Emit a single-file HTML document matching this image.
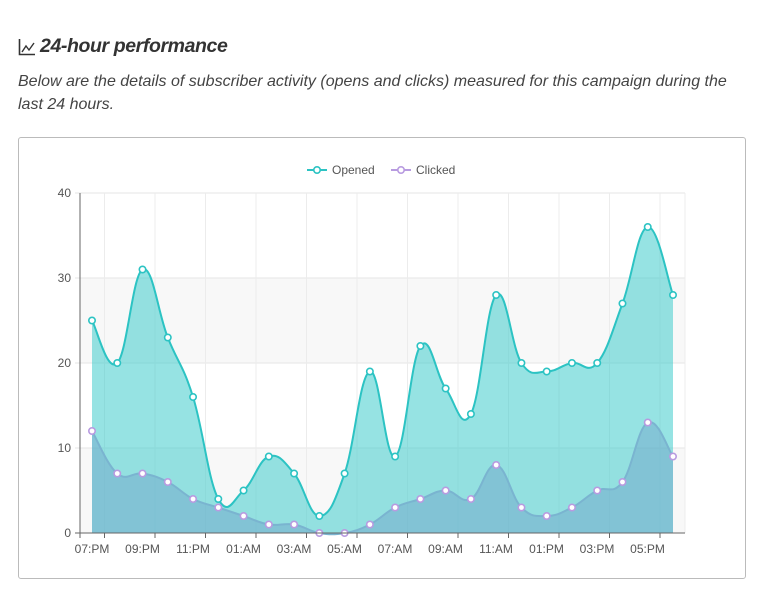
<!DOCTYPE html>
<html><head><meta charset="utf-8">
<style>
body{margin:0;background:#fff;width:766px;height:593px;overflow:hidden;font-family:"Liberation Sans",sans-serif;}
h2{position:absolute;left:18px;top:35px;margin:0;font-size:19.5px;font-style:italic;font-weight:bold;color:#333;letter-spacing:-0.4px}
p{position:absolute;left:18px;top:70px;margin:0;width:712px;font-size:16px;font-style:italic;color:#444;line-height:23px}
.card{position:absolute;left:18px;top:137px;width:726px;height:440px;border:1px solid #bbb;border-radius:3px}
svg{position:absolute;left:0;top:0}
</style></head><body>
<svg width="20" height="20" style="left:18px;top:38px"><path d="M1.5,1 V16.5 H17" fill="none" stroke="#333" stroke-width="1.6"/><path d="M4,14 L8,8 L11,12 L16,5" fill="none" stroke="#333" stroke-width="1.4"/></svg>
<h2><span style="display:inline-block;width:22px"></span>24-hour performance</h2>
<p>Below are the details of subscriber activity (opens and clicks) measured for this campaign during the last 24 hours.</p>
<div class="card"></div>
<svg id="s" width="766" height="593" font-family="Liberation Sans, sans-serif"></svg>
<script>
var O=[25,20,31,23,16,4,5,9,7,2,7,19,9,22,17,14,28,20,19,20,20,27,36,28];
var C=[12,7,7,6,4,3,2,1,1,0,0,1,3,4,5,4,8,3,2,3,5,6,13,9];
var X0=92,DX=(673-92)/23,Y0=533,K=8.5;
function px(i){return X0+i*DX}function py(v){return Y0-v*K}
function path(d){var p=d.map(function(v,i){return[px(i),py(v)]});var s="M"+p[0][0]+","+p[0][1];var t=0.4;
for(var i=0;i<p.length-1;i++){var a=p[Math.max(0,i-1)],b=p[i],c=p[i+1],e=p[Math.min(p.length-1,i+2)];
var c1x=b[0]+(c[0]-a[0])*t/2,c1y=b[1]+(c[1]-a[1])*t/2,c2x=c[0]-(e[0]-b[0])*t/2,c2y=c[1]-(e[1]-b[1])*t/2;
s+=" C"+c1x+","+c1y+" "+c2x+","+c2y+" "+c[0]+","+c[1];}return s}
var h="";
h+='<rect x="80" y="278" width="605" height="85" fill="#f8f8f8"/><rect x="80" y="448" width="605" height="85" fill="#f8f8f8"/>';
for(var v=0;v<=40;v+=10){h+='<line x1="75" x2="685" y1="'+py(v)+'" y2="'+py(v)+'" stroke="#e6e6e6"/>';
h+='<text x="71" y="'+(py(v)+4)+'" font-size="12" fill="#555" text-anchor="end">'+v+'</text>';}
var L=["07:PM","09:PM","11:PM","01:AM","03:AM","05:AM","07:AM","09:AM","11:AM","01:PM","03:PM","05:PM"];
for(var i=0;i<12;i++){var tx=104.5+i*50.5;h+='<line x1="'+tx+'" x2="'+tx+'" y1="193" y2="533" stroke="#ececec"/>';}
h+='<line x1="685" x2="685" y1="193" y2="533" stroke="#ececec"/>';
var po=path(O),pc=path(C);
h+='<path d="'+po+' L'+px(23)+','+Y0+' L'+X0+','+Y0+'Z" fill="rgba(46,200,200,0.5)"/>';
h+='<path d="'+pc+' L'+px(23)+','+Y0+' L'+X0+','+Y0+'Z" fill="rgba(110,160,200,0.45)"/>';
h+='<path d="'+po+'" fill="none" stroke="#2cc3c3" stroke-width="2"/>';
h+='<path d="'+pc+'" fill="none" stroke="#7ab4d0" stroke-width="2"/>';
for(var i=0;i<24;i++){h+='<circle cx="'+px(i)+'" cy="'+py(O[i])+'" r="3.2" fill="#fff" stroke="#2cc3c3" stroke-width="1.6"/>';
h+='<circle cx="'+px(i)+'" cy="'+py(C[i])+'" r="3.2" fill="#fff" stroke="#b89be0" stroke-width="1.6"/>';}
h+='<line x1="80" x2="80" y1="193" y2="538" stroke="#666"/><line x1="75" x2="685" y1="533" y2="533" stroke="#666"/>';
for(var i=0;i<12;i++){var tx=104.5+i*50.5;h+='<line x1="'+tx+'" x2="'+tx+'" y1="533" y2="538" stroke="#666"/>';
h+='<text x="'+(92+i*50.5)+'" y="553" font-size="12" fill="#555" text-anchor="middle">'+L[i]+'</text>';}
h+='<line x1="307" x2="327" y1="170" y2="170" stroke="#2cc3c3" stroke-width="2"/><circle cx="317" cy="170" r="3.2" fill="#fff" stroke="#2cc3c3" stroke-width="1.6"/>';
h+='<text x="332" y="174" font-size="12" fill="#555">Opened</text>';
h+='<line x1="391" x2="411" y1="170" y2="170" stroke="#b89be0" stroke-width="2"/><circle cx="401" cy="170" r="3.2" fill="#fff" stroke="#b89be0" stroke-width="1.6"/>';
h+='<text x="416" y="174" font-size="12" fill="#555">Clicked</text>';
document.getElementById("s").innerHTML=h;
</script>
</body></html>
